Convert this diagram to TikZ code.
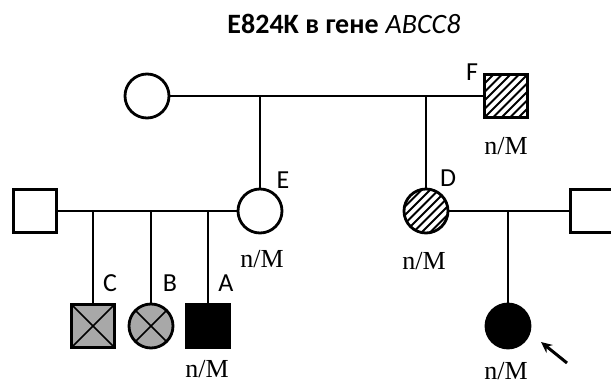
\documentclass[tikz,border=0pt]{standalone}
\usepackage{fontspec}
\setmainfont{Liberation Serif}
\newfontfamily\carlito{Carlito}
\usetikzlibrary{arrows.meta}
\definecolor{affgray}{RGB}{168,168,168}
\tikzset{
  ind/.style={draw=black, line width=2.8pt, inner sep=0pt, outer sep=0pt},
  female/.style={ind, circle, minimum size=44pt},
  male/.style={ind, rectangle, minimum size=43pt},
  hatched/.style={path picture={
      \foreach \k in {-6,...,6}{
        \draw[line width=2pt, shift={(path picture bounding box.center)}]
          (\k*8.5pt-30pt,-30pt) -- ++(60pt,60pt);}}},
  carrierx/.style={fill=affgray},
  link/.style={line width=2.8pt},
  lbl/.style={font=\carlito\fontsize{26}{30}\selectfont, inner sep=0pt},
  geno/.style={font=\fontsize{26}{30}\selectfont, inner sep=0pt}
}
\begin{document}
\begin{tikzpicture}[x=1pt,y=-1pt]
\useasboundingbox (0,0) rectangle (611,385);
% title
\node[anchor=base, inner sep=0pt, font=\fontsize{28}{32}\selectfont] (title) at (344,34)
  {{\carlito\bfseries E824K в гене} {\carlito\itshape ABCC8}};
% generation I
\node[female] (gm) at (147,96) {};
\node[male, hatched] (gf) at (506,96) {};
% generation II
\node[female] (E) at (260,211) {};
\node[female, hatched] (D) at (426,211) {};
\node[male] (h1) at (35,211) {};
\node[male] (h2) at (592,211) {};
% generation III
\node[male, carrierx] (C) at (93,326) {};
\node[female, carrierx] (B) at (151,326) {};
\node[male, fill=black] (A) at (208,326) {};
\node[female, fill=black] (P) at (508,326) {};
% crosses
\draw[line width=1.5pt] (C.north west) -- (C.south east) (C.north east) -- (C.south west);
\draw[line width=1.5pt] (B.45) -- (B.225) (B.135) -- (B.315);
% connectors
\draw[link] (gm.east) -- (gf.west);
\draw[link] (E |- gm) -- (E.north);
\draw[link] (D |- gm) -- (D.north);
\draw[link] (h1.east) -- (E.west);
\draw[link] (C |- h1) -- (C.north);
\draw[link] (B |- h1) -- (B.north);
\draw[link] (A |- h1) -- (A.north);
\draw[link] (D.east) -- (h2.west);
\draw[link] (P |- D) -- (P.north);
% proband arrow
\coordinate (arrtail) at (567,363);
\coordinate (arrhead) at (541,342);
\draw[line width=3pt, -{Stealth[length=11pt,width=10pt]}] (arrtail) -- (arrhead);
% letters
\node[lbl] (lF) at (472,72) {F};
\node[lbl] (lE) at (283,180) {E};
\node[lbl] (lD) at (448,178) {D};
\node[lbl] (lC) at (110,283) {C};
\node[lbl] (lB) at (170,283) {B};
\node[lbl] (lA) at (226,283) {A};
% genotypes
\node[geno] (gF) at (506,146) {n/M};
\node[geno] (gE) at (262,259) {n/M};
\node[geno] (gD) at (424,261) {n/M};
\node[geno] (gA) at (207,369) {n/M};
\node[geno] (gP) at (506,371) {n/M};
\end{tikzpicture}
\end{document}
